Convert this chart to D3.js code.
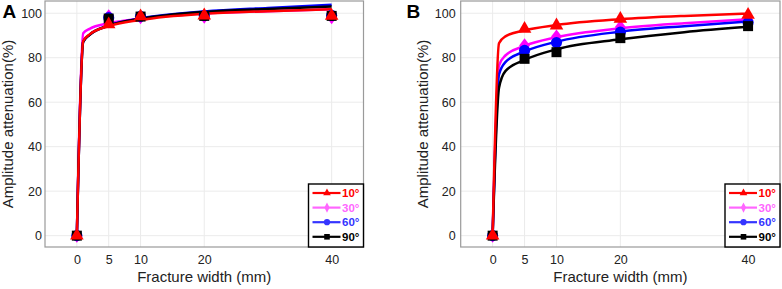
<!DOCTYPE html>
<html lang="en">
<head>
<meta charset="UTF-8">
<title>Amplitude attenuation vs fracture width</title>
<script src="https://d3js.org/d3.v7.min.js"></script>
<style>
  body { margin: 0; background: #fff; }
  svg text { font-family: "Liberation Sans", Arial, sans-serif; }
</style>
</head>
<body>
<div id="chart"></div>
<script>
// ---- data ----
const angles = ["10°", "30°", "60°", "90°"];
const widthTicks = [0, 5, 10, 20, 40];
const attenTicks = [0, 20, 40, 60, 80, 100];

// measured points (x = fracture width, mm)
const pointX = [0, 5, 10, 20, 40];
const ptsA10 = [0, 95.0, 98.6, 99.0, 98.8];
const ptsA30 = [0, 98.6, 98.3, 98.5, 98.3];
const ptsA60 = [0, 98.0, 98.6, 99.0, 99.0];
const ptsA90 = [0, 97.6, 98.5, 98.8, 98.8];

const ptsB10 = [0, 93.0, 94.5, 97.5, 99.3];
const ptsB30 = [0, 85.5, 89.5, 93.8, 96.8];
const ptsB60 = [0, 83.3, 86.8, 91.5, 95.8];
const ptsB90 = [0, 79.5, 82.5, 88.8, 94.2];

// fitted curves
const fitX = [0, 1, 2, 5, 10, 20, 30, 40];
const fitA10 = [0, 87.5, 90.5, 94.2, 97.0, 99.8, 100.9, 101.8];
const fitA30 = [0, 91.0, 93.0, 95.5, 97.6, 99.9, 100.9, 101.8];
const fitA60 = [0, 87.2, 90.3, 94.5, 97.7, 100.8, 102.4, 103.8];
const fitA90 = [0, 87.2, 90.3, 94.4, 97.5, 100.6, 101.9, 103.0];

const fitB10 = [0, 86.5, 89.6, 92.3, 94.7, 97.3, 98.8, 99.8];
const fitB30 = [0, 76.5, 81.0, 85.3, 89.2, 93.2, 95.5, 97.3];
const fitB60 = [0, 72.5, 78.0, 82.8, 87.2, 91.7, 94.2, 96.3];
const fitB90 = [0, 66.5, 74.0, 79.0, 83.8, 88.3, 91.5, 93.9];

// ---- styling ----
const lineColors = ["#ff0000", "#ff00ff", "#0000ff", "#000000"];
const keyColors = ["#ff0000", "#ff66ff", "#3535ff", "#000000"];
const shapes = ["triangle", "diamond", "circle", "square"];
const drawOrder = [1, 2, 3, 0]; // red last, on top

const W = 782, H = 289;
const plotTop = 1, plotBottom = 247;

const svg = d3.select("#chart").append("svg")
  .attr("width", W).attr("height", H);

function markerPath(shape, big) {
  const k = big ? 1 : 0.56;
  if (shape === "triangle") return d3.symbol(d3.symbolTriangle, 80 * k * k)();
  if (shape === "square") return d3.symbol(d3.symbolSquare, 100 * k * k)();
  if (shape === "circle") return d3.symbol(d3.symbolCircle, 98 * k * k)();
  // diamond
  const w = big ? 5.4 : 2.6, h = big ? 7.2 : 5.2;
  return `M0,${-h}L${w},0L0,${h}L${-w},0Z`;
}

function drawPanel(p) {
  const x = d3.scaleLinear().domain([-5, 45]).range([p.left, p.right]);
  const y = d3.scaleLinear().domain([-5.1, 105.5]).range([plotBottom, plotTop]);
  const g = svg.append("g");

  // grid
  g.selectAll(".vg").data(widthTicks).join("line")
    .attr("x1", d => x(d)).attr("x2", d => x(d))
    .attr("y1", plotTop).attr("y2", plotBottom)
    .attr("stroke", "#ebebeb").attr("stroke-width", 1);
  g.selectAll(".hg").data(attenTicks).join("line")
    .attr("x1", p.left).attr("x2", p.right)
    .attr("y1", d => y(d)).attr("y2", d => y(d))
    .attr("stroke", "#ebebeb").attr("stroke-width", 1);

  // axes (labels only, no tick marks)
  const ax = g.append("g").attr("transform", `translate(0,${plotBottom})`)
    .call(d3.axisBottom(x).tickValues(widthTicks).tickSize(0).tickPadding(8));
  ax.select(".domain").remove();
  ax.selectAll("text").attr("font-size", 12.5).attr("fill", "#222")
    .style("font-family", "'Liberation Sans', Arial, sans-serif");

  const ay = g.append("g").attr("transform", `translate(${p.left},0)`)
    .call(d3.axisLeft(y).tickValues(attenTicks).tickSize(0).tickPadding(p.ypad));
  ay.select(".domain").remove();
  ay.selectAll("text").attr("font-size", 12.5).attr("fill", "#222")
    .style("font-family", "'Liberation Sans', Arial, sans-serif");

  // border
  g.append("rect")
    .attr("x", p.left).attr("y", plotTop)
    .attr("width", p.right - p.left).attr("height", plotBottom - plotTop)
    .attr("fill", "none").attr("stroke", "#9a9a9a").attr("stroke-width", 1.2);

  // curves
  const line = d3.line()
    .x((d, i) => x(fitX[i])).y(d => y(d))
    .curve(d3.curveMonotoneX);
  drawOrder.forEach(i => {
    g.append("path").datum(p.fits[i])
      .attr("d", line)
      .attr("fill", "none")
      .attr("stroke", lineColors[i])
      .attr("stroke-width", 2.5)
      .attr("stroke-linejoin", "round");
  });

  // points
  drawOrder.forEach(i => {
    g.append("g").selectAll("path").data(p.pts[i]).join("path")
      .attr("d", markerPath(shapes[i], true))
      .attr("transform", (d, j) => `translate(${x(pointX[j])},${y(d)})`)
      .attr("fill", lineColors[i]);
  });

  // legend, bottom right inside the panel
  const lw = 55, lh = 63;
  const lg = g.append("g").attr("transform", `translate(${p.right - lw},${plotBottom - lh})`);
  lg.append("rect").attr("width", lw).attr("height", lh)
    .attr("fill", "#fff").attr("stroke", "#000").attr("stroke-width", 1.4);
  angles.forEach((a, i) => {
    const ry = 9 + i * 14.6;
    lg.append("line").attr("x1", 4).attr("x2", 32).attr("y1", ry).attr("y2", ry)
      .attr("stroke", keyColors[i]).attr("stroke-width", 2.2);
    lg.append("path").attr("d", markerPath(shapes[i], false))
      .attr("transform", `translate(18.5,${ry})`)
      .attr("fill", keyColors[i]);
    lg.append("text").attr("x", 33.5).attr("y", ry).attr("dy", "0.36em")
      .attr("font-size", 11.5).attr("font-weight", "bold")
      .attr("fill", keyColors[i]).text(a);
  });

  // titles
  g.append("text")
    .attr("x", (p.left + p.right) / 2).attr("y", 282)
    .attr("text-anchor", "middle").attr("font-size", 15).attr("fill", "#222")
    .text("Fracture width (mm)");
  g.append("text")
    .attr("transform", `translate(${p.ytitleX},${(plotTop + plotBottom) / 2}) rotate(-90)`)
    .attr("text-anchor", "middle").attr("font-size", 15).attr("fill", "#222")
    .text("Amplitude attenuation(%)");
  g.append("text")
    .attr("x", p.tagX).attr("y", 18.3)
    .attr("font-size", 19).attr("font-weight", "bold").attr("fill", "#000")
    .text(p.tag);
}

drawPanel({
  tag: "A", tagX: 2.5, left: 45, right: 363.5, ypad: 3, ytitleX: 13,
  fits: [fitA10, fitA30, fitA60, fitA90],
  pts: [ptsA10, ptsA30, ptsA60, ptsA90]
});
drawPanel({
  tag: "B", tagX: 406.5, left: 460.7, right: 780, ypad: 5, ytitleX: 428,
  fits: [fitB10, fitB30, fitB60, fitB90],
  pts: [ptsB10, ptsB30, ptsB60, ptsB90]
});
</script>
</body>
</html>
